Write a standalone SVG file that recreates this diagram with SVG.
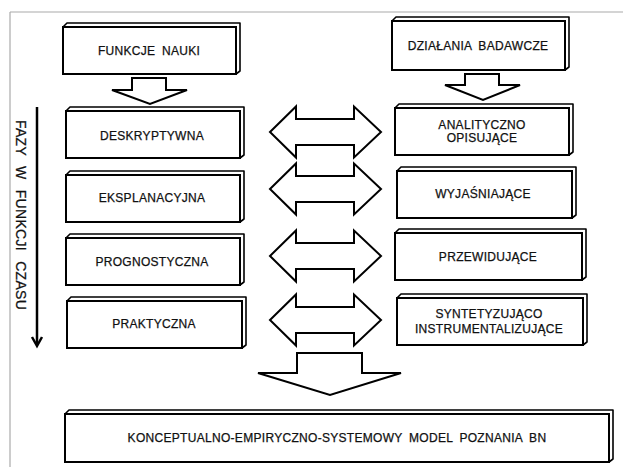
<svg xmlns="http://www.w3.org/2000/svg" width="623" height="467" viewBox="0 0 623 467">
<style>
.face{fill:#fff;stroke:#000;stroke-width:2}
.side{fill:#fff;stroke:#000;stroke-width:1.6;stroke-linejoin:round}
.t{font-family:"Liberation Sans",Arial,sans-serif;font-size:12px;fill:#111;stroke:#111;stroke-width:0.25;text-anchor:middle;letter-spacing:0.3px;word-spacing:3px}
.arr{fill:#fff;stroke:#000;stroke-width:2;stroke-linejoin:miter}
</style>
<rect x="0" y="0" width="623" height="467" fill="#fff"/>
<g id="frame" fill="none" stroke="#aaa" stroke-width="1.2">
<line x1="10" y1="12" x2="623" y2="12"/>
<line x1="10" y1="12" x2="10" y2="467"/>
</g>
<g id="n-funkcje">
<path class="side" d="M63,27 L67,23 L240,23 L240,71 L236,74 L236,27 Z"/>
<rect class="face" x="63" y="27" width="173" height="47"/>
<text class="t" x="149" y="55">FUNKCJE NAUKI</text>
</g>
<g id="n-dzialania">
<path class="side" d="M392,21 L396,17 L569,17 L569,67 L565,70 L565,21 Z"/>
<rect class="face" x="392" y="21" width="173" height="49"/>
<text class="t" x="478" y="50">DZIAŁANIA BADAWCZE</text>
</g>
<g id="n-deskr">
<path class="side" d="M66,111 L70,107 L244,107 L244,155 L240,158 L240,111 Z"/>
<rect class="face" x="66" y="111" width="174" height="47"/>
<text class="t" x="152" y="140">DESKRYPTYWNA</text>
</g>
<g id="n-anal">
<path class="side" d="M395,108 L399,104 L573,104 L573,152 L569,155 L569,108 Z"/>
<rect class="face" x="395" y="108" width="174" height="47"/>
<text class="t" x="482" y="129">ANALITYCZNO</text>
<text class="t" x="482" y="142">OPISUJĄCE</text>
</g>
<g id="n-ekspl">
<path class="side" d="M66,175 L70,171 L244,171 L244,219 L240,222 L240,175 Z"/>
<rect class="face" x="66" y="175" width="174" height="47"/>
<text class="t" x="152" y="202">EKSPLANACYJNA</text>
</g>
<g id="n-wyjas">
<path class="side" d="M397,171 L401,167 L576,167 L576,215 L572,218 L572,171 Z"/>
<rect class="face" x="397" y="171" width="175" height="47"/>
<text class="t" x="483" y="198">WYJAŚNIAJĄCE</text>
</g>
<g id="n-progn">
<path class="side" d="M66,238 L70,234 L244,234 L244,282 L240,285 L240,238 Z"/>
<rect class="face" x="66" y="238" width="174" height="47"/>
<text class="t" x="152" y="266">PROGNOSTYCZNA</text>
</g>
<g id="n-przew">
<path class="side" d="M395,233 L399,229 L586,229 L586,277 L582,280 L582,233 Z"/>
<rect class="face" x="395" y="233" width="187" height="47"/>
<text class="t" x="488" y="261">PRZEWIDUJĄCE</text>
</g>
<g id="n-prakt">
<path class="side" d="M67,301 L71,297 L246,297 L246,345 L242,348 L242,301 Z"/>
<rect class="face" x="67" y="301" width="175" height="47"/>
<text class="t" x="154" y="328">PRAKTYCZNA</text>
</g>
<g id="n-synt">
<path class="side" d="M397,298 L401,294 L587,294 L587,342 L583,345 L583,298 Z"/>
<rect class="face" x="397" y="298" width="186" height="47"/>
<text class="t" x="489" y="318">SYNTETYZUJĄCO</text>
<text class="t" x="489" y="333">INSTRUMENTALIZUJĄCE</text>
</g>
<g id="n-model">
<path class="side" d="M65,414 L69,410 L613,410 L613,459 L609,462 L609,414 Z"/>
<rect class="face" x="65" y="414" width="544" height="48"/>
<text class="t" x="337" y="442">KONCEPTUALNO-EMPIRYCZNO-SYSTEMOWY MODEL POZNANIA BN</text>
</g>
<g id="n-fazy">
<text class="t" font-size="14" style="font-size:14px;word-spacing:6px" transform="translate(16,215) rotate(90)">FAZY W FUNKCJI CZASU</text>
</g>
<g id="connectors">
<path class="arr" d="M132,78 H166 V90 H187 L150,104 L112,90 H132 Z"/>
<path class="arr" d="M465,74 H499 V85 H520 L483,100 L445,85 H465 Z"/>
<path class="arr" d="M297,353 H362 V373 H401 L330,395 L258,373 H297 Z"/>
<path class="arr" d="M270,132 L296,106.5 V119 H354 V106.5 L381,132 L354,157.5 V145 H296 V157.5 Z"/>
<path class="arr" d="M270,189 L296,163.5 V176 H354 V163.5 L381,189 L354,214.5 V202 H296 V214.5 Z"/>
<path class="arr" d="M270,256 L296,230.5 V243 H354 V230.5 L381,256 L354,281.5 V269 H296 V281.5 Z"/>
<path class="arr" d="M270,320 L296,294.5 V307 H354 V294.5 L381,320 L354,345.5 V333 H296 V345.5 Z"/>
<line x1="37" y1="107" x2="37" y2="345" stroke="#000" stroke-width="2.5"/>
<path d="M32,337 L37,346 L42,337" fill="none" stroke="#000" stroke-width="2.5"/>
</g>
</svg>
